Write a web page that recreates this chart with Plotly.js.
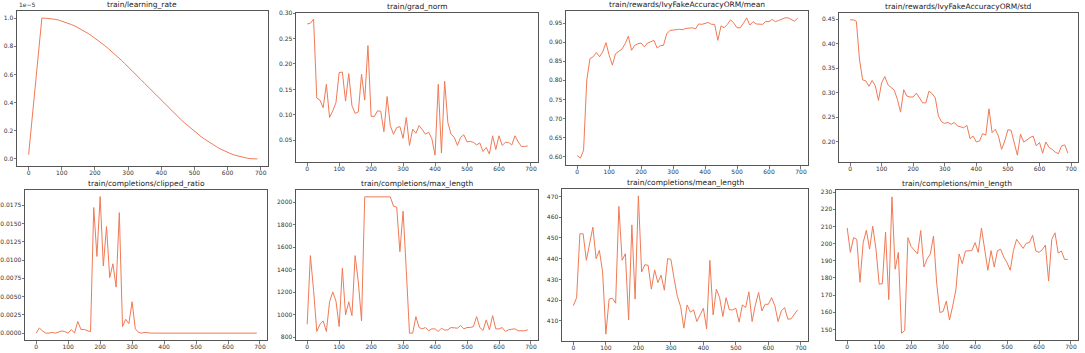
<!DOCTYPE html>
<html>
<head>
<meta charset="utf-8">
<script src="https://cdn.plot.ly/plotly-3.0.1.min.js"></script>
<style>
  body { margin: 0; background: #fff; }
  #chart { width: 1085px; height: 353px; }
</style>
</head>
<body>
<div id="chart"></div>
<script>
// steps are logged every 10
const steps = [0,10,20,30,40,50,60,70,80,90,100,110,120,130,140,150,160,170,180,190,
  200,210,220,230,240,250,260,270,280,290,300,310,320,330,340,350,360,370,380,390,
  400,410,420,430,440,450,460,470,480,490,500,510,520,530,540,550,560,570,580,590,
  600,610,620,630,640,650,660,670,680,690];

// learning rate, in units of 1e-5
const learningRate = [0.03,0.27,0.52,0.76,1.0,0.999,0.998,0.995,0.991,0.986,
  0.979,0.972,0.963,0.953,0.943,0.931,0.918,0.905,0.890,0.874,
  0.858,0.841,0.823,0.804,0.784,0.764,0.743,0.722,0.700,0.677,
  0.655,0.631,0.608,0.584,0.560,0.536,0.512,0.488,0.464,0.440,
  0.416,0.392,0.369,0.346,0.323,0.300,0.278,0.257,0.236,0.216,
  0.196,0.178,0.159,0.142,0.126,0.110,0.096,0.082,0.069,0.057,
  0.047,0.037,0.028,0.021,0.015,0.009,0.005,0.002,0.001,0.0];

const gradNorm = [0.2785,0.280,0.288,0.133,0.129,0.114,0.160,0.095,0.108,0.124,
  0.183,0.184,0.127,0.181,0.118,0.103,0.106,0.180,0.129,0.236,
  0.097,0.097,0.108,0.107,0.067,0.136,0.079,0.062,0.075,0.077,
  0.054,0.095,0.040,0.072,0.064,0.079,0.071,0.062,0.066,0.053,
  0.021,0.160,0.025,0.166,0.085,0.062,0.056,0.040,0.056,0.061,
  0.047,0.048,0.046,0.041,0.045,0.028,0.036,0.023,0.059,0.032,
  0.059,0.040,0.046,0.046,0.041,0.059,0.047,0.038,0.038,0.039];

const rewardMean = [0.603,0.596,0.617,0.801,0.857,0.862,0.873,0.862,0.875,0.899,
  0.866,0.840,0.870,0.877,0.882,0.896,0.916,0.879,0.892,0.896,
  0.898,0.888,0.898,0.901,0.905,0.885,0.891,0.892,0.922,0.931,
  0.933,0.933,0.934,0.933,0.936,0.938,0.938,0.935,0.948,0.947,
  0.950,0.952,0.947,0.947,0.905,0.943,0.938,0.947,0.959,0.950,
  0.938,0.938,0.950,0.964,0.945,0.954,0.948,0.948,0.947,0.955,
  0.954,0.960,0.954,0.957,0.960,0.964,0.964,0.960,0.955,0.964];

const rewardStd = [0.449,0.449,0.446,0.367,0.326,0.324,0.313,0.325,0.314,0.284,
  0.320,0.333,0.316,0.311,0.305,0.286,0.260,0.306,0.293,0.291,
  0.291,0.299,0.288,0.279,0.279,0.303,0.298,0.289,0.252,0.240,
  0.237,0.239,0.235,0.239,0.232,0.230,0.228,0.233,0.206,0.211,
  0.199,0.201,0.216,0.213,0.267,0.218,0.225,0.211,0.184,0.201,
  0.224,0.223,0.198,0.172,0.215,0.199,0.203,0.208,0.211,0.191,
  0.198,0.176,0.199,0.188,0.184,0.178,0.175,0.191,0.193,0.176];

const clippedRatio = [0,0.0007,0.0003,0,0,0.0001,0,0.0002,0.0003,0.0002,
  0,0.0005,0,0.0016,0.0005,0.0005,0.0003,0.0002,0.0172,0.0105,
  0.0187,0.0092,0.0146,0.0076,0.0095,0.0063,0.0165,0.0009,0.0019,0.0013,
  0.0043,0.0006,0.0001,0,0.0001,0,0,0,0,0,
  0,0,0,0,0,0,0,0,0,0,
  0,0,0,0.0001,0,0,0,0,0.0001,0,
  0,0,0,0,0,0,0,0,0,0];

const maxLength = [914,1525,1217,850,914,944,850,1114,1202,1120,
  894,1413,997,1114,991,1525,1290,944,2048,2048,
  2048,2048,2048,2048,2048,2048,2048,1965,1956,1560,
  1921,1393,835,835,982,885,873,885,856,873,
  873,850,879,862,865,885,879,879,903,873,
  885,885,894,982,885,859,953,865,991,873,
  873,885,850,865,870,873,856,856,856,865];

const meanLength = [417.3,421.2,452.0,452.0,439.2,446.4,455.2,440.0,444.0,433.6,
  403.6,420.5,420.9,418.5,465.2,439.2,442.4,410.5,456.3,420.5,
  470.3,433.6,437.1,436.8,425.3,434.6,428.5,432.0,424.8,440.0,
  439.7,430.4,421.7,416.9,406.5,417.7,414.2,415.3,409.7,412.9,
  416.1,406.2,439.2,412.9,425.3,421.2,412.1,421.2,415.3,415.3,
  416.1,409.4,417.7,416.4,424.0,409.7,417.7,423.7,414.8,418.0,
  418.0,421.2,417.3,409.7,414.8,416.4,410.8,411.0,412.9,415.3];

const minLength = [209.1,194.9,203.5,202.5,177.5,200.6,207.8,196.8,210.1,196.8,
  176.4,176.7,206.7,167.4,227.2,185.1,194.9,147.9,149.4,203.5,
  198.3,195.9,194.0,207.6,186.4,191.1,194.0,204.4,176.9,159.9,
  160.5,166.5,155.5,163.6,173.1,194.0,188.3,195.7,195.7,195.9,
  200.6,194.9,209.1,197.2,184.5,195.9,186.4,195.9,196.8,192.1,
  188.9,184.5,195.9,202.5,199.7,197.2,200.2,200.6,204.8,195.7,
  194.9,196.4,199.1,178.2,202.5,206.3,194.5,195.7,190.8,190.8];

const titles = [
  'train/learning_rate', 'train/grad_norm',
  'train/rewards/IvyFakeAccuracyORM/mean', 'train/rewards/IvyFakeAccuracyORM/std',
  'train/completions/clipped_ratio', 'train/completions/max_length',
  'train/completions/mean_length', 'train/completions/min_length'
];
const series = [learningRate, gradNorm, rewardMean, rewardStd,
  clippedRatio, maxLength, meanLength, minLength];

// panel boxes in pixels: [left, right, top, bottom]
const W = 1085, H = 353;
const boxes = [
  [17, 268, 11, 166], [296, 538, 13, 162], [566, 808, 11, 165], [839, 1078, 13, 162],
  [25, 267, 190, 340], [296, 538, 190, 340], [562, 808, 189, 341], [836, 1078, 190, 340]
];
const yRanges = [[-0.05, 1.05], [0.0075, 0.300], [0.578, 0.982], [0.158, 0.463],
  [-0.00094, 0.0196], [774, 2109], [400.3, 473.6], [143.9, 231.2]];
const yTicks = [
  {tick0: 0, dtick: 0.2, tickformat: '.1f'},
  {tick0: 0, dtick: 0.05, tickformat: '.2f'},
  {tick0: 0, dtick: 0.05, tickformat: '.2f'},
  {tick0: 0, dtick: 0.05, tickformat: '.2f'},
  {tick0: 0, dtick: 0.0025, tickformat: '.4f'},
  {tick0: 0, dtick: 200, tickformat: 'd'},
  {tick0: 0, dtick: 10, tickformat: 'd'},
  {tick0: 0, dtick: 10, tickformat: 'd'}
];

const lineColor = '#f07a55';
const axisColor = '#555';
const tickFont = {family: 'DejaVu Sans', size: 6, color: '#333'};

const traces = [];
const layout = {
  width: W, height: H,
  margin: {l: 0, r: 0, t: 0, b: 0},
  paper_bgcolor: '#fff', plot_bgcolor: '#fff',
  showlegend: false,
  annotations: []
};

series.forEach((ys, i) => {
  const n = i === 0 ? '' : String(i + 1);
  const b = boxes[i];
  traces.push({
    x: steps, y: ys, type: 'scatter', mode: 'lines',
    xaxis: 'x' + n, yaxis: 'y' + n,
    line: {color: lineColor, width: 1}
  });
  const common = {
    showgrid: false, zeroline: false, showline: true, mirror: true,
    linecolor: axisColor, linewidth: 1,
    ticks: 'outside', ticklen: 2.5, tickwidth: 0.8, tickcolor: '#555',
    tickfont: tickFont, fixedrange: true
  };
  layout['xaxis' + n] = Object.assign({}, common, {
    domain: [b[0] / W, b[1] / W], anchor: 'y' + n,
    range: [-35, 722], tickmode: 'linear', tick0: 0, dtick: 100,
    ticklabelstandoff: -2
  });
  layout['yaxis' + n] = Object.assign({}, common, {
    domain: [1 - b[3] / H, 1 - b[2] / H], anchor: 'x' + n,
    range: yRanges[i], tickmode: 'linear', ticklabelstandoff: -1,
    tick0: yTicks[i].tick0, dtick: yTicks[i].dtick, tickformat: yTicks[i].tickformat
  });
  layout.annotations.push({
    text: titles[i], xref: 'paper', yref: 'paper',
    x: (b[0] + b[1]) / 2 / W, y: 1 - (b[2] - 0.5) / H,
    xanchor: 'center', yanchor: 'bottom', showarrow: false,
    font: {family: 'DejaVu Sans', size: 7.5, color: '#222'}
  });
});

layout.annotations.push({
  text: '1e\u22125', xref: 'paper', yref: 'paper',
  x: 17 / W, y: 1 - 10 / H, xanchor: 'left', yanchor: 'bottom', showarrow: false,
  font: {family: 'DejaVu Sans', size: 6, color: '#333'}
});

Plotly.newPlot('chart', traces, layout, {displayModeBar: false, staticPlot: true});
</script>
</body>
</html>
